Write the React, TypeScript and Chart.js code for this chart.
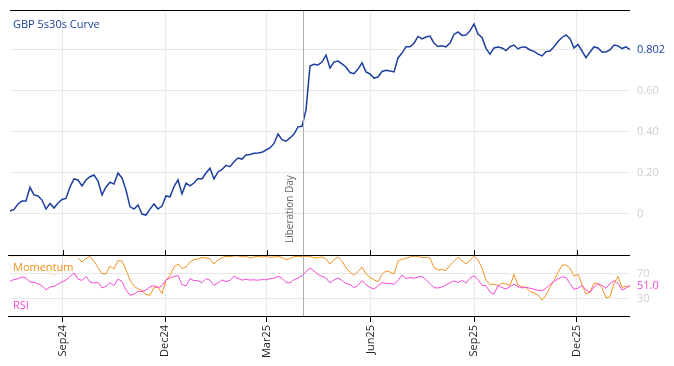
import React, { useEffect, useRef } from 'react';
import { Chart, registerables } from 'chart.js';

Chart.register(...registerables);

// ---- data -------------------------------------------------------------
const DAY = 86400000;
const FIRST_TICK = Date.UTC(2024, 8, 1) / DAY; // Sep24
const X_MIN = FIRST_TICK - 46.75;
const X_MAX = Date.UTC(2025, 11, 1) / DAY + 47.3;

const tickDates: [number, number][] = [
  [2024, 8], [2024, 11], [2025, 2], [2025, 5], [2025, 8], [2025, 11],
];
const tickLabels = ['Sep24', 'Dec24', 'Mar25', 'Jun25', 'Sep25', 'Dec25'];

const eventDate = Date.UTC(2025, 3, 2) / DAY;
const eventLabel = 'Liberation Day';

const curveValues = [
  0.015, 0.022, 0.049, 0.063, 0.063, 0.13, 0.093, 0.088, 0.068, 0.024,
  0.051, 0.029, 0.054, 0.071, 0.076, 0.132, 0.171, 0.166, 0.137, 0.166,
  0.182, 0.19, 0.161, 0.093, 0.132, 0.155, 0.146, 0.2, 0.176, 0.117,
  0.036, 0.024, 0.044, 0.0, -0.005, 0.024, 0.049, 0.024, 0.039, 0.088,
  0.084, 0.134, 0.166, 0.098, 0.15, 0.137, 0.151, 0.173, 0.171, 0.2,
  0.223, 0.171, 0.205, 0.217, 0.237, 0.231, 0.255, 0.273, 0.268, 0.288,
  0.29, 0.296, 0.298, 0.301, 0.312, 0.322, 0.344, 0.39, 0.363, 0.355,
  0.371, 0.39, 0.425, 0.428, 0.507, 0.722, 0.73, 0.727, 0.741, 0.775,
  0.712, 0.741, 0.746, 0.732, 0.717, 0.69, 0.684, 0.707, 0.737, 0.693,
  0.683, 0.663, 0.668, 0.695, 0.701, 0.697, 0.693, 0.761, 0.785, 0.816,
  0.816, 0.833, 0.866, 0.854, 0.863, 0.868, 0.833, 0.817, 0.82, 0.815,
  0.834, 0.876, 0.888, 0.871, 0.873, 0.893, 0.927, 0.878, 0.861, 0.808,
  0.78, 0.81, 0.815, 0.81, 0.797, 0.816, 0.824, 0.805, 0.815, 0.813,
  0.8, 0.793, 0.78, 0.771, 0.792, 0.795, 0.816, 0.841, 0.861, 0.873,
  0.855, 0.81, 0.827, 0.795, 0.763, 0.79, 0.815, 0.81, 0.79, 0.79,
  0.8, 0.824, 0.82, 0.807, 0.815, 0.802,
];

const rsiValues = [
  57.3, 60.5, 61.8, 64.5, 62.9, 56.5, 55.6, 53.9, 50.3, 43.9,
  48.4, 49.2, 53.2, 56.5, 59.7, 65.3, 71, 61.3, 58.9, 65.5,
  56.5, 54.8, 56, 46.8, 49.5, 55.3, 50.5, 61.3, 57.3, 43.5,
  35, 36.6, 41.1, 41.1, 43.5, 48.4, 50.6, 47.3, 50.5, 60,
  62.9, 65.3, 67, 52.4, 50, 61.8, 58.7, 58.5, 55.3, 61.8,
  59.2, 51.1, 54.8, 60, 57.1, 59.2, 65.6, 62.3, 59.4, 61,
  59.5, 60, 59.4, 60.3, 60, 61.8, 62.6, 65.6, 62.4, 55.6,
  55.1, 60.2, 62.9, 66.5, 73.4, 79, 74.2, 68.5, 65.5, 62.9,
  54.8, 59.7, 62.9, 58.9, 53.7, 52.4, 47.4, 50.8, 58.7, 52.1,
  47.6, 45.2, 50.5, 55.1, 54.5, 53.9, 52.9, 58.7, 67.7, 62.1,
  63.7, 62.6, 64.4, 65.6, 60.5, 53.9, 47.3, 46.8, 48.5, 51.8,
  55, 58.4, 55.6, 58.9, 54.8, 62.6, 66.5, 60, 51.1, 50.3,
  40.3, 36.8, 50.8, 47.4, 45.2, 49, 52.9, 48.9, 46.9, 47.9,
  46.3, 45, 43.2, 41.8, 46.6, 52.4, 57.6, 61.5, 64.7, 64,
  53.7, 44.7, 46.5, 50.8, 44, 39.5, 48.4, 53.5, 50.6, 46.3,
  53.9, 58.4, 54.2, 43.5, 46.8, 51.0,
];

const momentumValues = [
  96.8, 97.6, 98.4, 94.4, 91.9, 95.2, 89.5, 81.5, 76.6, 74.2,
  70.2, 66.1, 74.7, 85.5, 93.5, 96.8, 96.8, 95.2, 88.7, 94.4,
  97.6, 90.3, 79.8, 70.2, 69.4, 82.3, 77.4, 91.1, 90.3, 75.8,
  59.7, 50, 45.2, 42.7, 36.3, 35, 47.3, 48.4, 37.6, 58.9,
  67.3, 81, 85.5, 78.2, 80.6, 88.7, 92.7, 93.5, 96.1, 95.2,
  94, 85.5, 91.9, 95.5, 97.9, 97.3, 98.4, 98.7, 96.8, 98.1,
  95.2, 96.8, 97.9, 96.8, 98.1, 96.3, 96.8, 97.6, 96.3, 92.3,
  94.2, 97.4, 97.9, 97.1, 98.1, 97.4, 95.6, 95.5, 96.8, 93.5,
  85.5, 92.2, 96.8, 90.6, 79, 72.6, 67.3, 73.4, 80.6, 69.4,
  63.7, 60.2, 56.8, 68.9, 74.2, 72.6, 69.4, 90.3, 93.2, 94.5,
  96.8, 98.1, 97.4, 96.1, 96, 95.2, 79.4, 76, 76.5, 75,
  83.4, 89.8, 96.5, 91.1, 85.5, 91.5, 97.9, 91.9, 79.4, 59.4,
  52.4, 52.9, 50.8, 54.4, 53.2, 51.1, 68.5, 51.6, 49, 47.3,
  40.8, 38.7, 35.2, 27.4, 35.5, 47.9, 58.5, 71.8, 83.4, 84,
  78.5, 66.1, 69, 52.3, 37.1, 40.3, 54.8, 53.7, 47.1, 31.1,
  32.3, 54.8, 65.3, 47.6, 50, 48.4,
];
const momentumWarmup = 17; // first points drawn faded

// ---- styling ----------------------------------------------------------
const FONT = '"Open Sans", "Noto Sans", sans-serif';
const BLUE = '#1c3f9f';
const ORANGE = '#f59121';
const ORANGE_FADED = 'rgba(245,145,33,0.2)';
const MAGENTA = '#f54ad6';
const GRID = '#e8e8e8';
const AXIS_TEXT = '#cfcfcf';

const sampleDays = curveValues.map(
  (_, i) => X_MIN + (i * (X_MAX - X_MIN)) / (curveValues.length - 1)
);
const toPoints = (vals: number[]) => vals.map((v, i) => ({ x: sampleDays[i], y: v }));

const zeroPad = (s: any) => {
  s.paddingTop = 0;
  s.paddingBottom = 0;
  s.paddingLeft = 0;
  s.paddingRight = 0;
};

const overlay = {
  id: 'overlay',
  afterDatasetsDraw(chart: any) {
    const { ctx, chartArea: ca, scales } = chart;
    const xs = scales.x, y = scales.y, y2 = scales.y2;
    ctx.save();

    // event line + label
    const lx = Math.round(xs.getPixelForValue(eventDate)) + 0.5;
    ctx.strokeStyle = '#b0b0b0';
    ctx.lineWidth = 1;
    ctx.beginPath();
    ctx.moveTo(lx, ca.top);
    ctx.lineTo(lx, ca.bottom);
    ctx.stroke();
    ctx.save();
    ctx.translate(lx - 13, y.bottom - 12);
    ctx.rotate(-Math.PI / 2);
    ctx.font = `10px ${FONT}`;
    ctx.fillStyle = '#666';
    ctx.textAlign = 'left';
    ctx.textBaseline = 'middle';
    ctx.fillText(eventLabel, 0, 0);
    ctx.restore();

    // black rules
    ctx.strokeStyle = '#000';
    ctx.lineWidth = 1;
    const hl = (yy: number, x0: number, x1: number) => {
      const py = Math.round(yy) + 0.5;
      ctx.beginPath();
      ctx.moveTo(x0, py);
      ctx.lineTo(x1, py);
      ctx.stroke();
    };
    hl(ca.top, ca.left, ca.right);
    hl(y.bottom, ca.left - 2, ca.right);
    hl(ca.bottom - 1, ca.left - 2, ca.right);
    xs.ticks.forEach((t: any) => {
      const px = Math.round(xs.getPixelForValue(t.value)) + 0.5;
      ctx.beginPath();
      ctx.moveTo(px, y.bottom - 5);
      ctx.lineTo(px, y.bottom);
      ctx.stroke();
    });

    // panel labels
    ctx.font = `11px ${FONT}`;
    ctx.textAlign = 'left';
    ctx.textBaseline = 'middle';
    ctx.fillStyle = BLUE;
    ctx.fillText('GBP 5s30s Curve', ca.left + 3, ca.top + 15);
    ctx.fillStyle = ORANGE;
    ctx.fillText('Momentum', ca.left + 3, y.bottom + 13);
    ctx.fillStyle = MAGENTA;
    ctx.fillText('RSI', ca.left + 3, ca.bottom - 11);

    // last-value labels
    const lastCurve = curveValues[curveValues.length - 1];
    const lastRsi = rsiValues[rsiValues.length - 1];
    ctx.fillStyle = BLUE;
    ctx.fillText(lastCurve.toFixed(3), ca.right + 7, y.getPixelForValue(lastCurve));
    ctx.fillStyle = MAGENTA;
    ctx.fillText(lastRsi.toFixed(1), ca.right + 7, y2.getPixelForValue(lastRsi));
    ctx.restore();
  },
};

export default function App() {
  const ref = useRef<HTMLCanvasElement>(null);
  useEffect(() => {
    if (!ref.current) return;
    const tickDays = tickDates.map(([yy, m]) => Date.UTC(yy, m, 1) / DAY);
    const chart = new Chart(ref.current, {
      type: 'line',
      data: {
        datasets: [
          {
            label: 'RSI',
            data: toPoints(rsiValues),
            yAxisID: 'y2',
            borderColor: MAGENTA,
            borderWidth: 1,
            pointRadius: 0,
            tension: 0,
          },
          {
            label: 'Momentum',
            data: toPoints(momentumValues),
            yAxisID: 'y2',
            borderColor: ORANGE,
            borderWidth: 1,
            pointRadius: 0,
            tension: 0,
            segment: {
              borderColor: (c: any) => (c.p1DataIndex <= momentumWarmup ? ORANGE_FADED : undefined),
            },
          },
          {
            label: 'GBP 5s30s Curve',
            data: toPoints(curveValues),
            yAxisID: 'y',
            borderColor: BLUE,
            borderWidth: 1.5,
            pointRadius: 0,
            tension: 0,
          },
        ],
      },
      options: {
        animation: false,
        responsive: false,
        events: [],
        layout: { padding: { left: 10, top: 10, right: 0, bottom: 0 } },
        plugins: { legend: { display: false }, tooltip: { enabled: false } },
        scales: {
          x: {
            type: 'linear',
            min: X_MIN,
            max: X_MAX,
            afterBuildTicks: (s: any) => {
              s.ticks = tickDays.map((v) => ({ value: v }));
            },
            afterFit: (s: any) => {
              s.height = 49;
              zeroPad(s);
            },
            ticks: {
              autoSkip: false,
              minRotation: 90,
              maxRotation: 90,
              padding: 3,
              color: '#222',
              font: { family: FONT, size: 11 },
              callback: (_v: any, i: number) => tickLabels[i],
            },
            grid: { color: GRID, tickColor: '#000', tickLength: 5, drawTicks: true },
            border: { display: false },
          },
          y: {
            position: 'right',
            stack: 'panels',
            stackWeight: 245,
            min: -0.2,
            max: 0.995,
            afterBuildTicks: (s: any) => {
              s.ticks = [0, 0.2, 0.4, 0.6, 0.8].map((v) => ({ value: v }));
            },
            afterFit: (s: any) => {
              s.width = 44;
              zeroPad(s);
            },
            ticks: {
              padding: 7,
              color: AXIS_TEXT,
              font: { family: FONT, size: 11 },
              callback: (v: any) => (v === 0.8 ? '' : v === 0 ? '0' : Number(v).toFixed(2)),
            },
            grid: { color: GRID, drawTicks: false },
            border: { display: false },
          },
          y2: {
            position: 'right',
            stack: 'panels',
            stackWeight: 62,
            min: 0,
            max: 100,
            afterBuildTicks: (s: any) => {
              s.ticks = [30, 70].map((v) => ({ value: v }));
            },
            afterFit: (s: any) => {
              s.width = 44;
              zeroPad(s);
            },
            ticks: {
              padding: 7,
              color: AXIS_TEXT,
              font: { family: FONT, size: 11 },
              callback: (v: any) => String(v),
            },
            grid: { color: GRID, drawTicks: false },
            border: { display: false },
          },
        },
      },
      plugins: [overlay],
    });
    return () => chart.destroy();
  }, []);

  return (
    <div style={{ position: 'absolute', left: 0, top: 0, width: 674, height: 366, background: '#fff' }}>
      <canvas ref={ref} width={674} height={366} style={{ display: 'block' }} />
    </div>
  );
}
